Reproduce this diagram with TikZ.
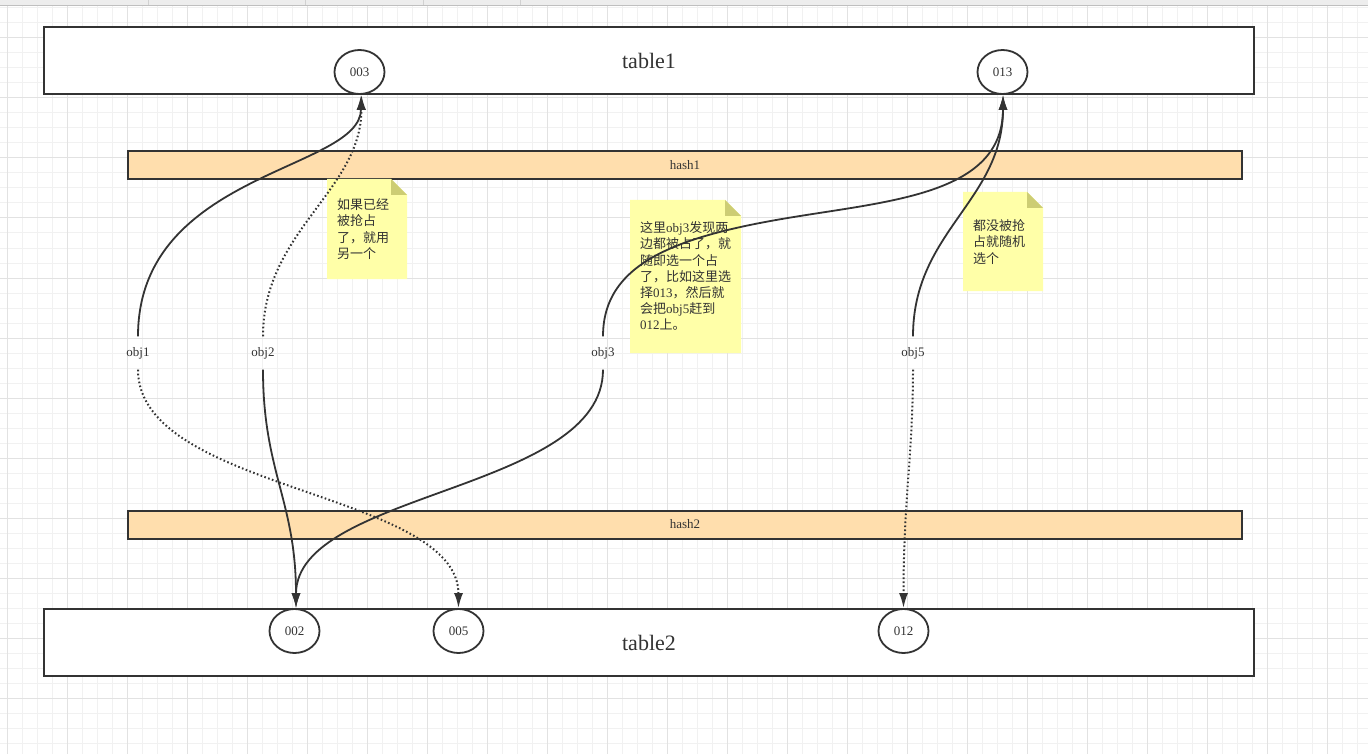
\documentclass[tikz,border=0pt]{standalone}
\usepackage{fontspec}
\setmainfont{Liberation Serif}
\newfontfamily\cjk{Noto Sans CJK SC}
\usetikzlibrary{arrows.meta,shapes.geometric}
\definecolor{ink}{HTML}{333333}
\definecolor{peach}{HTML}{FFDEAD}
\definecolor{notey}{HTML}{FFFFA8}
\definecolor{foldc}{HTML}{CDCD74}
\definecolor{gminor}{HTML}{F1F1F1}
\definecolor{gmajor}{HTML}{E2E2E2}
\begin{document}
\begin{tikzpicture}[x=1pt,y=-1pt,
  tablebox/.style={draw=ink, line width=2pt, fill=white, inner sep=0pt, text=ink, font=\fontsize{22}{22}\selectfont},
  hashbox/.style={draw=ink, line width=2pt, fill=peach, inner sep=0pt, text=ink, font=\fontsize{13}{13}\selectfont, minimum width=1114pt, minimum height=28pt},
  slot/.style={ellipse, draw=ink, line width=1.8pt, fill=white, minimum width=50pt, minimum height=44pt, inner sep=0pt, text=ink, font=\fontsize{13}{13}\selectfont},
  objlbl/.style={inner sep=0pt, minimum width=40pt, minimum height=33pt, text=ink, font=\fontsize{13}{13}\selectfont},
  notetext/.style={inner sep=0pt, anchor=north west, align=left, text=ink, font=\cjk\fontsize{13}{16.2}\selectfont},
  conn/.style={draw=ink, line width=1.8pt, -{Latex[length=15pt,width=9pt]}},
  dotconn/.style={conn, line width=2pt, dash pattern=on 1.6pt off 2.4pt}
]
\useasboundingbox (0,0) rectangle (1368,754);
\fill[white] (0,0) rectangle (1368,754);
% grid
\foreach \x in {7,22,...,1367} \draw[gminor, line width=1pt] (\x,6) -- (\x,754);
\foreach \y in {8,23,...,753} \draw[gminor, line width=1pt] (0,\y) -- (1368,\y);
\foreach \x in {7,67,...,1367} \draw[gmajor, line width=1pt] (\x,6) -- (\x,754);
\foreach \y in {38,98,...,753} \draw[gmajor, line width=1pt] (0,\y) -- (1368,\y);
% top strip
\fill[black!7] (0,0) rectangle (1368,5.5);
\draw[black!25, line width=1pt] (0,5.5) -- (1368,5.5);
\foreach \x in {148,305,423,520} \draw[black!18, line width=1pt] (\x,0) -- (\x,5.5);

% tables
\node[tablebox, minimum width=1210pt, minimum height=67pt] (t1) at (649,60.5) {table1};
\node[tablebox, minimum width=1210pt, minimum height=67pt] (t2) at (649,642.5) {table2};
\node[hashbox] (h1) at (685,165) {hash1};
\node[hashbox] (h2) at (685,524.5) {hash2};

% slots
\node[slot] (s003) at (359.5,72) {003};
\node[slot] (s013) at (1002.5,72) {013};
\node[slot] (s002) at (294.5,631) {002};
\node[slot] (s005) at (458.5,631) {005};
\node[slot] (s012) at (903.5,631) {012};

% obj labels
\node[objlbl] (o1) at (138,353) {obj1};
\node[objlbl] (o2) at (263,353) {obj2};
\node[objlbl] (o3) at (603,353) {obj3};
\node[objlbl] (o5) at (913,353) {obj5};

% notes
\fill[notey] (327,179) -- (391,179) -- (407,195) -- (407,279) -- (327,279) -- cycle;
\fill[foldc] (391,179) -- (407,195) -- (391,195) -- cycle;
\node[notetext] (n1) at (337,198.5) {如果已经\\被抢占\\了，就用\\另一个};

\fill[notey] (630,200) -- (725,200) -- (741,216) -- (741,353) -- (630,353) -- cycle;
\fill[foldc] (725,200) -- (741,216) -- (725,216) -- cycle;
\node[notetext] (n2) at (640,221.5) {这里{\rmfamily obj3}发现两\\边都被占了，就\\随即选一个占\\了，比如这里选\\择{\rmfamily 013}，然后就\\会把{\rmfamily obj5}赶到\\{\rmfamily 012}上。};

\fill[notey] (963,192) -- (1027,192) -- (1043,208) -- (1043,291) -- (963,291) -- cycle;
\fill[foldc] (1027,192) -- (1043,208) -- (1027,208) -- cycle;
\node[notetext] (n3) at (973,219.5) {都没被抢\\占就随机\\选个};

% connectors
\coordinate (m3) at (800,216);
\draw[conn] (o1.north) .. controls +(0,-165) and +(0,76) .. ([xshift=1.5pt]s003.south);
\draw[dotconn] (o2.north) .. controls +(0,-105) and +(0,96) .. ([xshift=2pt]s003.south);
\draw[conn] (o2.south) .. controls +(0,102) and +(0,-107) .. ([xshift=1.5pt]s002.north);
\draw[dotconn] (o1.south) .. controls +(0,122) and +(0,-117) .. (s005.north);
\draw[conn] (o3.south) .. controls +(0,122) and +(0,-117) .. ([xshift=1.5pt]s002.north);
\draw[conn] (o3.north) .. controls +(0,-75) and +(-120,19) .. (m3)
  .. controls +(100,-16) and +(0,96) .. ([xshift=0.5pt]s013.south);
\draw[conn] (o5.north) .. controls +(0,-105) and +(0,106) .. ([xshift=0.5pt]s013.south);
\draw[dotconn] (o5.south) .. controls +(0,82) and +(0,-107) .. (s012.north);
\end{tikzpicture}
\end{document}
